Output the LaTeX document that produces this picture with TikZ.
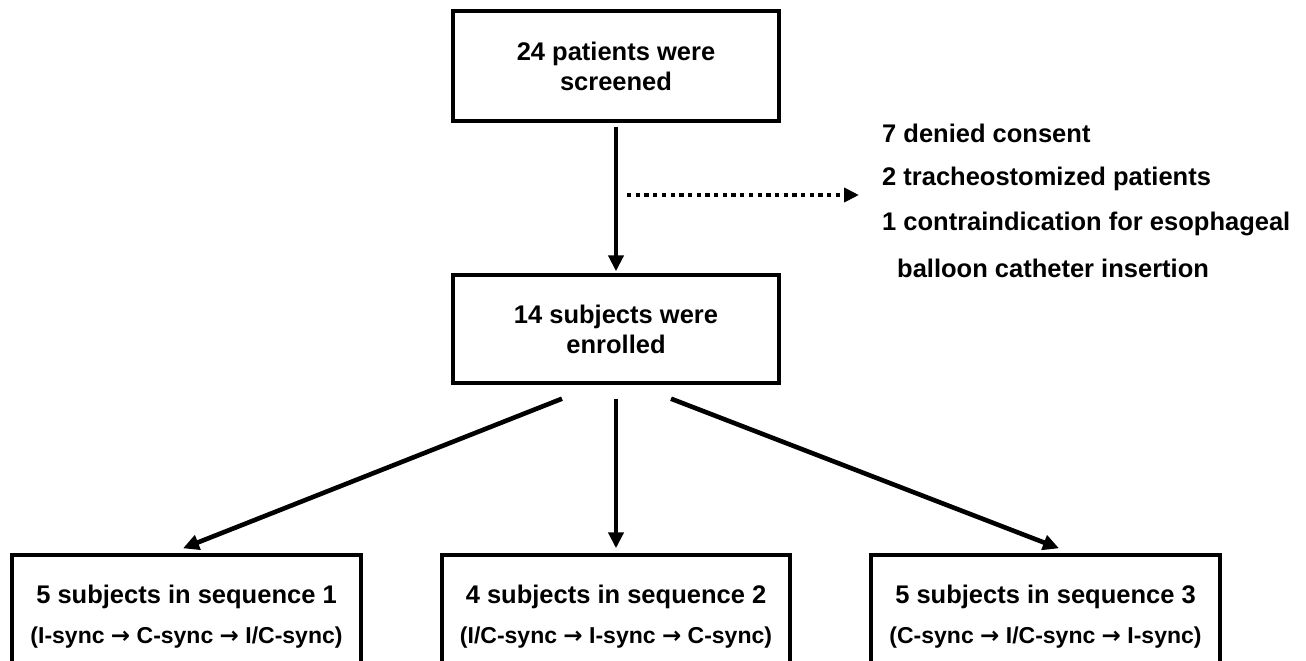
\documentclass[tikz,border=0pt]{standalone}
\usepackage{fontspec}
\setmainfont{Liberation Sans}
\newfontfamily\arrowfont{DejaVu Sans}
\newcommand{\ar}{{\arrowfont\bfseries →}}
\usetikzlibrary{arrows.meta,calc}
\begin{document}
\begin{tikzpicture}[x=1pt,y=-1pt,
  box/.style={draw, line width=3.4pt, inner sep=0pt, align=center,
    font=\bfseries\fontsize{25.5}{30}\selectfont},
  maintext/.style={font=\bfseries\fontsize{25.5}{30}\selectfont, inner sep=0pt},
  subtext/.style={font=\bfseries\fontsize{23}{27}\selectfont, inner sep=0pt},
  arr/.style={line width=4.6pt, -{Triangle[length=16pt,width=15pt]}},
  dotarr/.style={line width=4.3pt, dash pattern=on 4.3pt off 4.4pt, -{Triangle[length=15pt,width=14pt]}},
]
\useasboundingbox (0,0) rectangle (1306,661);
\fill[white] (0,0) rectangle (1306,661);
\clip (0,0) rectangle (1306,661);

% top boxes
\node[box, minimum width=326pt, minimum height=110pt] (top) at (616,66) {24 patients were\\screened};
\node[box, minimum width=326pt, minimum height=108pt] (mid) at (616,329) {14 subjects were\\enrolled};

% exclusion list
\node[maintext, anchor=west] (r1) at (882,133) {7 denied consent};
\node[maintext, anchor=west] (r2) at (882,179) {2 tracheostomized patients};
\node[maintext, anchor=west] (r3) at (882,224) {1 contraindication for esophageal};
\node[maintext, anchor=west] (r4) at (897,268) {balloon catheter insertion};

% bottom boxes (cut by the lower edge)
\node[box, minimum width=349pt, minimum height=150pt] (s1) at (186.5,630) {};
\node[box, minimum width=348pt, minimum height=150pt] (s2) at (616,630) {};
\node[box, minimum width=349pt, minimum height=150pt] (s3) at (1045.5,630) {};

\node[maintext] (s1a) at (186.5,597) {5 subjects in sequence 1};
\node[subtext] (s1b) at (186.5,638) {(I-sync \ar{} C-sync \ar{} I/C-sync)};
\node[maintext] (s2a) at (616,597) {4 subjects in sequence 2};
\node[subtext] (s2b) at (616,638) {(I/C-sync \ar{} I-sync \ar{} C-sync)};
\node[maintext] (s3a) at (1045.5,597) {5 subjects in sequence 3};
\node[subtext] (s3b) at (1045.5,638) {(C-sync \ar{} I/C-sync \ar{} I-sync)};

% connectors
\draw[arr] ($(top.south)+(0,4)$) -- ($(mid.north)+(0,-2)$);
\coordinate (d0) at (627,195);
\coordinate (d1) at ($(r2.west)+(-23,16)$);
\draw[dotarr] (d0) -- (d1);

\draw[arr] ($(mid.south)+(-54,14)$) -- ($(s1.north)+(-3.5,-5)$);
\draw[arr] ($(mid.south)+(0,14)$) -- ($(s2.north)+(0,-5)$);
\draw[arr] ($(mid.south)+(55,14)$) -- ($(s3.north)+(13.5,-5)$);
\end{tikzpicture}
\end{document}
